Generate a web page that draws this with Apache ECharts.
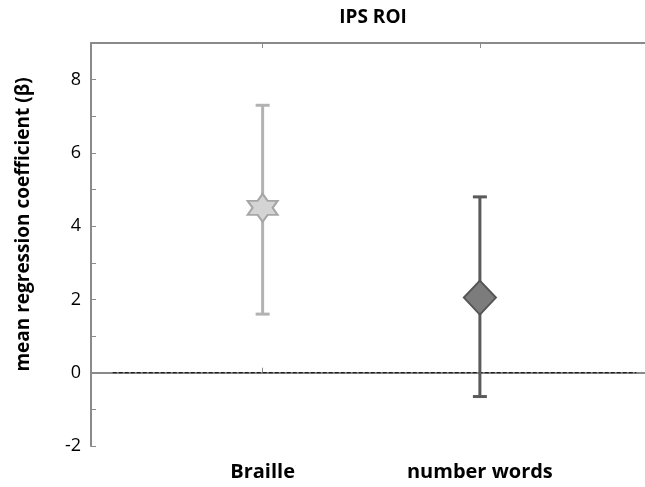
<!DOCTYPE html>
<html><head><meta charset="utf-8">
<script src="https://cdn.jsdelivr.net/npm/echarts@6/dist/echarts.min.js"></script>
<style>html,body{margin:0;padding:0;background:#fff}#c{width:645px;height:487px}</style>
</head><body><div id="c"></div>
<script>
const categories = ['Braille', 'number words'];
const catPos = [1, 2];
const means = [4.5, 2.05];
const upper = [7.3, 4.8];
const lower = [1.6, -0.65];
const yTicks = [-2, 0, 2, 4, 6, 8];
const zeroLine = [[0.31, 0], [2.72, 0]];
const lineColors = ['#b2b2b2', '#5a5a5a'];
const fillColors = ['#d4d4d4', '#7c7c7c'];
const borderColors = ['#a6a6a6', '#555555'];

const starPath = 'path://M87,0 L115.9,50 L173.6,50 L144.7,100 L173.6,150 L115.9,150 L87,200 L58.1,150 L0.4,150 L29.3,100 L0.4,50 L58.1,50 Z';
const symbols = [starPath, 'diamond'];
const sizes = [[30, 28], [32, 34]];

const chart = echarts.init(document.getElementById('c'));
const font = '"Open Sans", "DejaVu Sans", sans-serif';

const errData = catPos.map((x, i) => [x, lower[i], upper[i], i]);

chart.setOption({
  animation: false,
  title: { text: 'IPS ROI', left: 368, top: 3, textAlign: 'center',
    textStyle: { fontFamily: font, fontWeight: 'bold', fontSize: 19, color: '#000' } },
  grid: { left: 91, top: 43, right: 0, bottom: 41 },
  xAxis: [{
    type: 'value', min: 0.21, max: 2.76, position: 'bottom',
    axisLine: { show: true, lineStyle: { color: '#8a8a8a', width: 2 } },
    axisTick: { show: true, inside: true, length: 5, customValues: catPos, lineStyle: { color: '#8a8a8a' } },
    axisLabel: { customValues: catPos, formatter: v => categories[catPos.indexOf(v)] || '', margin: 16,
      fontFamily: font, fontWeight: 'bold', fontSize: 20, color: '#000' },
    splitLine: { show: false }
  }, {
    type: 'value', min: 0.21, max: 2.76, position: 'top',
    axisLine: { show: true, lineStyle: { color: '#8a8a8a', width: 2 } },
    axisTick: { show: true, inside: true, length: 5, customValues: catPos, lineStyle: { color: '#8a8a8a' } },
    axisLabel: { show: false },
    splitLine: { show: false }
  }],
  yAxis: {
    type: 'value', min: -2, max: 9, interval: 1,
    name: 'mean regression coefficient (β)', nameLocation: 'middle', nameGap: 58, nameRotate: 90,
    nameTextStyle: { fontFamily: font, fontWeight: 'bold', fontSize: 19, color: '#000', padding: [0, 0, 0, 40] },
    axisLine: { show: true, lineStyle: { color: '#8a8a8a', width: 2 } },
    axisTick: { show: true, inside: true, length: 5, lineStyle: { color: '#8a8a8a' } },
    axisLabel: { formatter: v => yTicks.includes(v) ? String(v) : '', margin: 10,
      fontFamily: font, fontSize: 18, color: '#000' },
    splitLine: { show: false }
  },
  series: [
    {
      type: 'line', data: zeroLine, symbol: 'none',
      lineStyle: { color: '#000', width: 1, type: [4, 2] }, z: 1
    },
    {
      type: 'custom', data: errData, z: 2,
      renderItem: (params, api) => {
        const x = api.value(0);
        const lo = api.coord([x, api.value(1)]);
        const hi = api.coord([x, api.value(2)]);
        const c = lineColors[api.value(3)];
        const style = { stroke: c, lineWidth: 3 };
        const cap = 7;
        return { type: 'group', children: [
          { type: 'line', shape: { x1: lo[0], y1: lo[1], x2: hi[0], y2: hi[1] }, style },
          { type: 'line', shape: { x1: lo[0] - cap, y1: lo[1], x2: lo[0] + cap, y2: lo[1] }, style },
          { type: 'line', shape: { x1: hi[0] - cap, y1: hi[1], x2: hi[0] + cap, y2: hi[1] }, style }
        ]};
      }
    },
    ...catPos.map((x, i) => ({
      type: 'scatter', data: [[x, means[i]]], symbol: symbols[i], symbolSize: sizes[i], z: 3,
      itemStyle: { color: fillColors[i], borderColor: borderColors[i], borderWidth: 2, opacity: 1 }
    }))
  ]
});
</script></body></html>
